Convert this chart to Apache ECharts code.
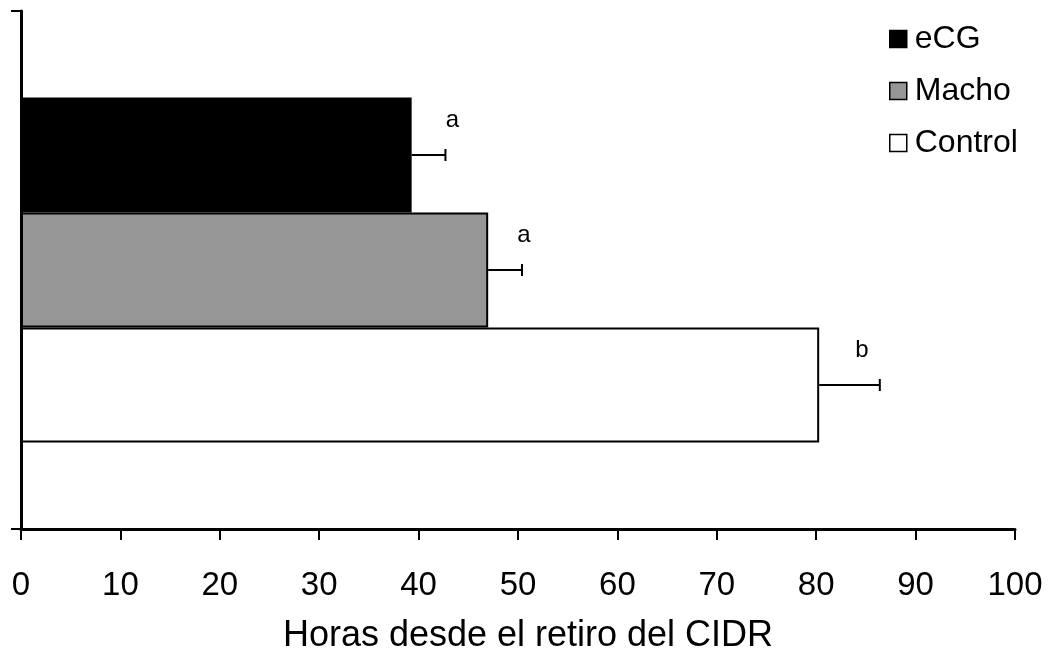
<!DOCTYPE html>
<html>
<head>
<meta charset="utf-8">
<script src="https://cdn.jsdelivr.net/npm/echarts@6/dist/echarts.min.js"></script>
<style>
  html, body { margin: 0; padding: 0; background: #fff; }
  #chart { width: 1053px; height: 659px; }
</style>
</head>
<body>
<div id="chart"></div>
<script>
// Hours from CIDR removal to event, by treatment group (mean ± SE)
const groups = ['eCG', 'Macho', 'Control'];
const meanHours = [39.3, 47.0, 80.3];
const seHours = [3.4, 3.4, 6.1];
const sigLetters = ['a', 'a', 'b'];

const groupFill = ['#000000', '#969696', '#ffffff'];
const FONT = '"Liberation Sans", Arial, sans-serif';
const CATEGORY_GAP = 0.334;        // fraction of the band left empty
const letterShift = [7, 2, -18];   // horizontal nudge of each letter, px

const chart = echarts.init(document.getElementById('chart'), null, { renderer: 'canvas' });

const barSeries = groups.map((name, i) => ({
  name: name,
  type: 'bar',
  data: [meanHours[i]],
  barGap: '0%',
  barCategoryGap: (CATEGORY_GAP * 100) + '%',
  itemStyle: { color: groupFill[i], borderColor: '#000', borderWidth: 2 },
  silent: true
}));

const errorSeries = {
  type: 'custom',
  silent: true,
  z: 5,
  data: groups.map((g, i) => [meanHours[i], seHours[i], i]),
  encode: { x: 0 },
  renderItem: function (params, api) {
    const mean = api.value(0);
    const se = api.value(1);
    const idx = api.value(2);
    const centre = api.coord([0, 0]);
    const band = api.size([0, 1])[1];
    const barW = band * (1 - CATEGORY_GAP) / groups.length;
    const y = centre[1] - band * (1 - CATEGORY_GAP) / 2 + barW * (idx + 0.5);
    const x0 = api.coord([mean, 0])[0];
    const x1 = api.coord([mean + se, 0])[0];
    const stroke = { stroke: '#000', lineWidth: 2 };
    return {
      type: 'group',
      children: [
        { type: 'line', shape: { x1: x0, y1: y, x2: x1, y2: y }, style: stroke },
        { type: 'line', shape: { x1: x1, y1: y - 6, x2: x1, y2: y + 6 }, style: stroke },
        {
          type: 'text',
          style: {
            text: sigLetters[idx],
            x: x1 + letterShift[idx],
            y: y - 35,
            align: 'center',
            verticalAlign: 'middle',
            font: '24px ' + FONT,
            fill: '#000'
          }
        }
      ]
    };
  }
};

chart.setOption({
  animation: false,
  backgroundColor: '#fff',
  textStyle: { fontFamily: FONT, color: '#000' },
  grid: { left: 21, right: 38, top: 11, bottom: 130, containLabel: false, outerBoundsMode: 'none' },
  legend: {
    orient: 'vertical',
    left: 889,
    top: 23,
    padding: 0,
    itemWidth: 17,
    itemHeight: 17,
    itemGap: 20,
    icon: 'rect',
    data: groups,
    itemStyle: { borderColor: '#000', borderWidth: 1.5 },
    textStyle: { fontSize: 32, fontFamily: FONT, color: '#000', lineHeight: 32, padding: [0, 0, 0, 3] }
  },
  xAxis: {
    type: 'value',
    min: 0,
    max: 100,
    interval: 10,
    name: 'Horas desde el retiro del CIDR',
    nameLocation: 'middle',
    nameGap: 89,
    nameTextStyle: { fontSize: 36, fontFamily: FONT, color: '#000', padding: [0, 0, 0, 20] },
    axisLine: { show: true, lineStyle: { color: '#000', width: 3 } },
    axisTick: { show: true, length: 11, lineStyle: { color: '#000', width: 2 } },
    axisLabel: { fontSize: 33, fontFamily: FONT, color: '#000', margin: 40 },
    splitLine: { show: false }
  },
  yAxis: {
    type: 'category',
    data: [''],
    inverse: true,
    axisLine: { show: true, lineStyle: { color: '#000', width: 3 } },
    axisTick: { show: true, length: 10, alignWithLabel: false, lineStyle: { color: '#000', width: 2 } },
    axisLabel: { show: false }
  },
  series: barSeries.concat([errorSeries])
});
</script>
</body>
</html>
